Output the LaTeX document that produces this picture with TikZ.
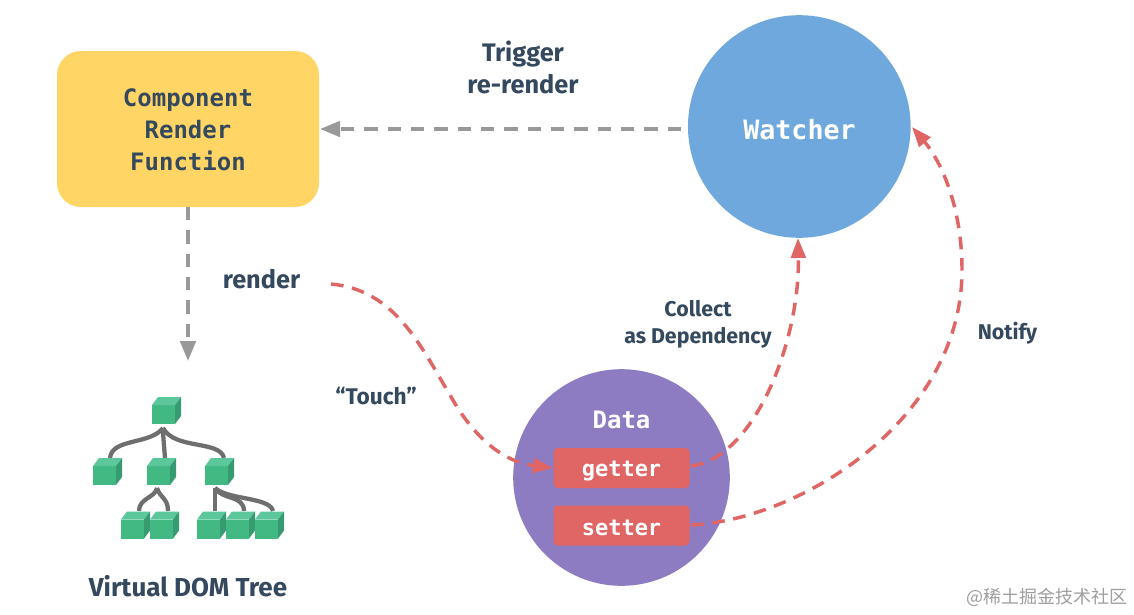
\documentclass[tikz,border=0pt]{standalone}
\usepackage{fontspec}
\setmainfont{Fira Sans}
\setmonofont{DejaVu Sans Mono}
\newfontfamily\cjkwm{Noto Sans CJK SC}
\usetikzlibrary{arrows.meta}
\definecolor{ink}{HTML}{34495E}
\definecolor{yel}{HTML}{FFD666}
\definecolor{blu}{HTML}{6FA8DC}
\definecolor{pur}{HTML}{8E7CC3}
\definecolor{rd}{HTML}{E06666}
\definecolor{grn}{HTML}{42B983}
\definecolor{grnl}{HTML}{5CC79A}
\definecolor{grnd}{HTML}{379B72}
\definecolor{gry}{HTML}{999999}
\definecolor{lnk}{HTML}{6E6E6E}
\tikzset{
  x=0.75pt,y=-0.75pt,
  lab/.style={font=\bfseries\fontsize{19}{24}\selectfont,text=ink,align=center,inner sep=0pt},
  smlab/.style={font=\bfseries\fontsize{16}{20.5}\selectfont,text=ink,align=center,inner sep=0pt},
  mono/.style={font=\ttfamily\bfseries\fontsize{18}{24}\selectfont,align=center,inner sep=0pt},
  pill/.style={fill=rd,rounded corners=3pt,minimum width=102pt,minimum height=30pt,inner sep=0pt},
  pilltext/.style={text=white,inner sep=0pt,font=\ttfamily\bfseries\fontsize{16.5}{20}\selectfont},
  gdash/.style={draw=gry,line width=2.8pt,dash pattern=on 10pt off 7.5pt,-{Triangle[length=15pt,width=11.5pt,fill=gry]}},
  rdash/.style={draw=rd,line width=2.6pt,dash pattern=on 9.5pt off 6.5pt,-{Triangle[length=15pt,width=11pt,fill=rd]}},
  front/.style={fill=grn,minimum width=17.25pt,minimum height=14.25pt,inner sep=0pt,outer sep=0pt},
  lnkline/.style={draw=lnk,line width=3.2pt},
}
\newcommand{\mycube}[3]{%
  \node[front] (#1) at (#2,#3) {};
  \fill[grnl] (#1.north west) -- ++(6,-8) -- ++(23,0) -- (#1.north east) -- cycle;
  \fill[grnd] (#1.north east) -- ++(6,-8) -- ++(0,19) -- (#1.south east) -- cycle;
}
\begin{document}
\begin{tikzpicture}
\useasboundingbox (0,0) rectangle (1134,614);
\fill[white] (0,0) rectangle (1134,614);

% main shapes
\node[fill=yel,rounded corners=18pt,minimum width=196.5pt,minimum height=117pt,inner sep=0pt] (comp) at (188,129) {};
\node[mono,text=ink] (compl) at (188,130) {Component\\Render\\Function};
\node[circle,fill=blu,minimum size=167pt,inner sep=0pt] (watcher) at (799.3,126.5) {};
\node[text=white,inner sep=0pt,font=\ttfamily\bfseries\fontsize{20}{24}\selectfont] (watcherl) at (799.5,130) {Watcher};
\node[circle,fill=pur,minimum size=162.5pt,inner sep=0pt] (data) at (621.5,477.5) {};
\node[text=white,inner sep=0pt,font=\ttfamily\bfseries\fontsize{18}{24}\selectfont] (datal) at (621.5,420) {Data};
\node[pill] (getter) at (621.5,468) {};
\node[pill] (setter) at (621.5,525.5) {};
\node[pilltext] (getterl) at (621.5,471.5) {getter};
\node[pilltext] (setterl) at (621.5,527.5) {setter};

% labels
\node[lab] (trig) at (523,67) {Trigger\\re-render};
\node[lab] (render) at (261.5,279) {render};
\node[smlab,font=\bfseries\fontsize{17}{20.5}\selectfont] (touch) at (376,396) {“Touch”};
\node[smlab] (collect) at (698,324) {Collect\\as Dependency};
\node[smlab] (notify) at (1007.5,333) {Notify};
\node[font=\bfseries\fontsize{19.5}{22}\selectfont,text=ink,inner sep=0pt] (vdom) at (188,586) {Virtual DOM Tree};
\node[font=\cjkwm\fontsize{13.5}{16}\selectfont,text=black!38,inner sep=0pt,anchor=east] (wm) at (1128,597) {@稀土掘金技术社区};

% connectors
\coordinate (trigs) at (681,129);
\coordinate (comps) at (188,207);
\coordinate (domtip) at (188,361);
\coordinate (comptip) at (320,129);
\draw[gdash] (trigs) -- (comptip);
\draw[gdash] (comps) -- (domtip);

\coordinate (rstart) at (331,284);
\coordinate (gl) at (553,468);
\coordinate (gr) at (691,466);
\coordinate (sr) at (691,525);
\coordinate (wb) at (798,238);
\coordinate (wr) at (912,127);
\draw[rdash] (rstart) .. controls (395,290) and (420,345) .. (450,395)
   .. controls (475,440) and (505,462) .. (gl);
\draw[rdash] (gr) .. controls (755,458) and (800,340) .. (wb);
\draw[rdash] (sr) .. controls (800,520) and (962,420) .. (962,270)
   .. controls (962,205) and (940,160) .. (wr);

% tree links
\coordinate (j0) at (163,428);
\coordinate (j1) at (157,488);
\coordinate (j2) at (215,488);
\coordinate (a) at (110,458);
\coordinate (b) at (165,458);
\coordinate (c) at (224,458);
\coordinate (d) at (139,511);
\coordinate (e) at (168,511);
\coordinate (f) at (215,511);
\coordinate (g) at (244,511);
\coordinate (h) at (273,511);
\draw[lnkline] (j0) .. controls (150,445) and (112,438) .. (a);
\draw[lnkline] (j0) .. controls (163,435) and (164,445) .. (b);
\draw[lnkline] (j0) .. controls (175,450) and (220,440) .. (c);
\draw[lnkline] (j1) .. controls (155,498) and (139,498) .. (d);
\draw[lnkline] (j1) .. controls (160,498) and (168,498) .. (e);
\draw[lnkline] (j2) -- (f);
\draw[lnkline] (j2) .. controls (222,500) and (244,495) .. (g);
\draw[lnkline] (j2) .. controls (228,500) and (270,497) .. (h);

% cubes
\mycube{r0}{163.5}{414.5}
\mycube{k1}{104.5}{475.5}
\mycube{k2}{158.5}{475.5}
\mycube{k3}{216.5}{475.5}
\mycube{l1}{132.5}{529}
\mycube{l2}{161.5}{529}
\mycube{l3}{208.5}{529}
\mycube{l4}{237.5}{529}
\mycube{l5}{266.5}{529}
\end{tikzpicture}
\end{document}
